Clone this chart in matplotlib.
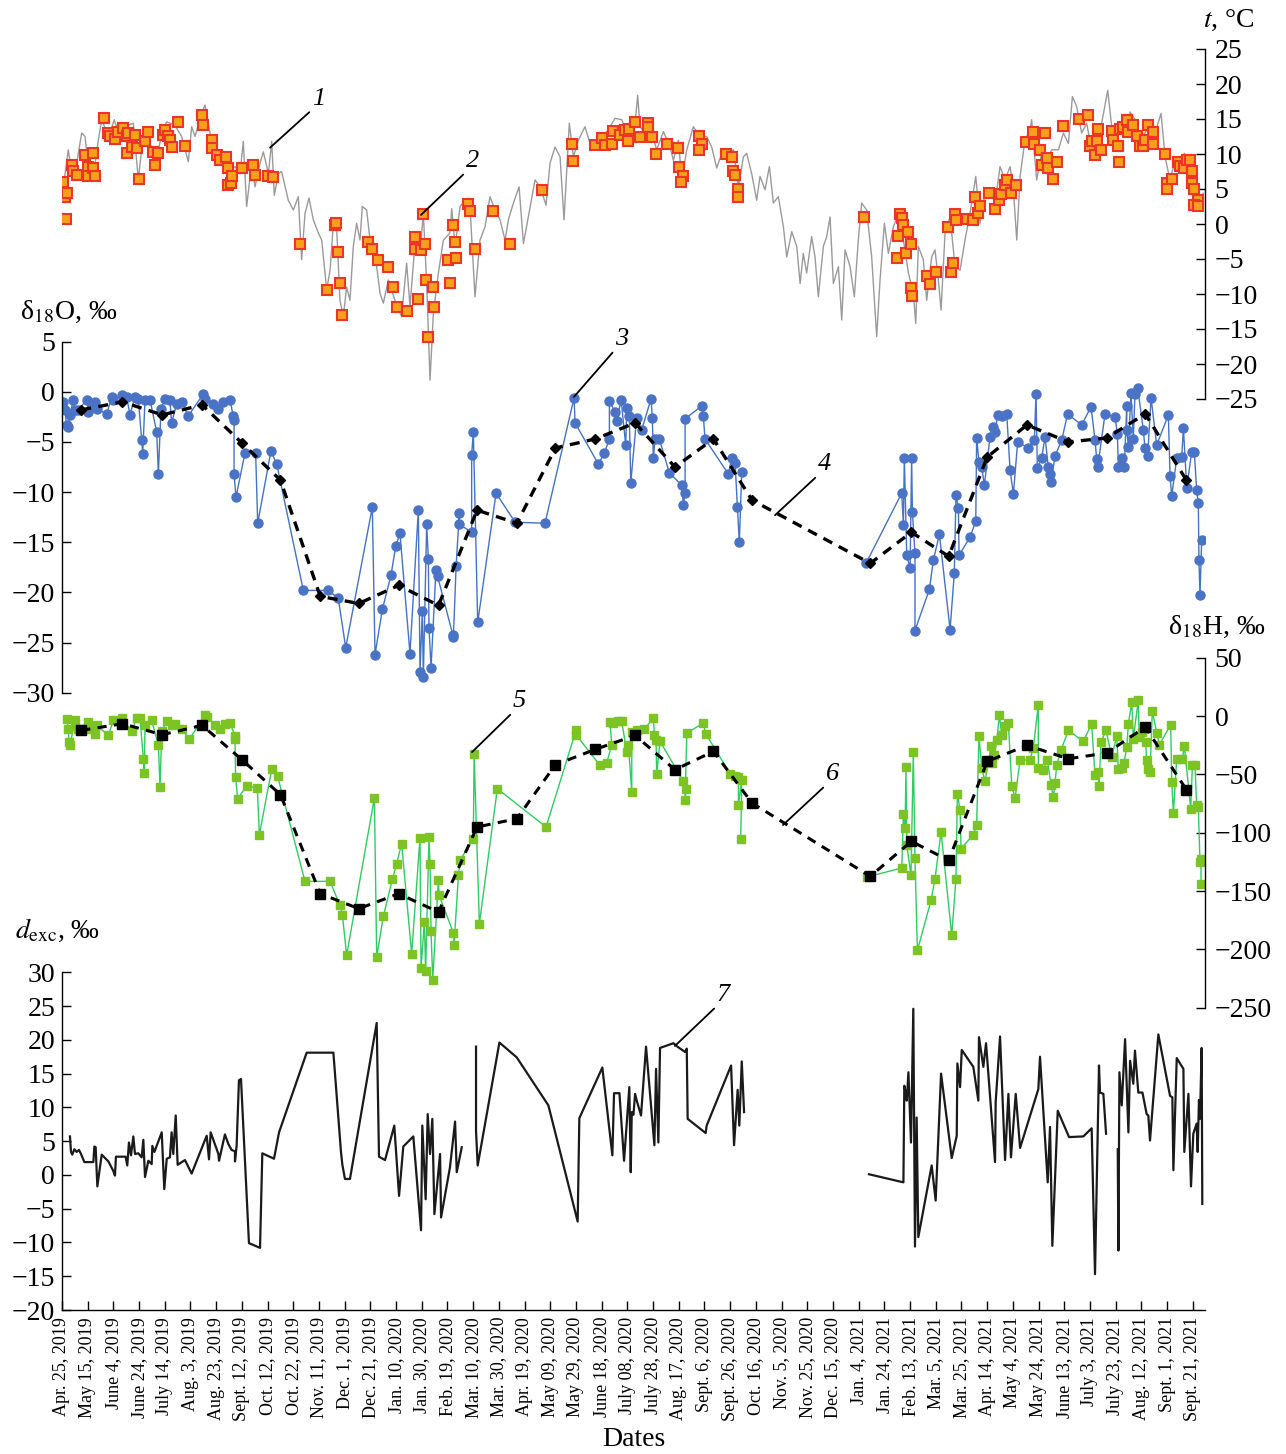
import numpy as np
import matplotlib.pyplot as plt

plt.rcParams["font.family"] = ["Liberation Serif", "DejaVu Serif"]
plt.rcParams["mathtext.fontset"] = "stix"

# x axis in days since Apr. 25, 2019
tick_days = list(range(0, 881, 20))
tick_labels = ["Apr. 25, 2019", "May 15, 2019", "June 4, 2019", "June 24, 2019",
               "July 14, 2019", "Aug. 3, 2019", "Aug. 23, 2019", "Sept. 12, 2019",
               "Oct. 12, 2019", "Oct. 22, 2019", "Nov. 11, 2019", "Dec. 1, 2019",
               "Dec. 21, 2019", "Jan. 10, 2020", "Jan. 30, 2020", "Feb. 19, 2020",
               "Mar. 10, 2020", "Mar. 30, 2020", "Apr. 19, 2020", "May 09, 2020",
               "May 29, 2020", "June 18, 2020", "July 08, 2020", "July 28, 2020",
               "Aug. 17, 2020", "Sept. 6, 2020", "Sept. 26, 2020", "Oct. 16, 2020",
               "Nov. 5, 2020", "Nov. 25, 2020", "Dec. 15, 2020", "Jan. 4, 2021",
               "Jan. 24, 2021", "Feb. 13, 2021", "Mar. 5, 2021", "Mar. 25, 2021",
               "Apr. 14, 2021", "May 4, 2021", "May 24, 2021", "June 13, 2021",
               "July 3, 2021", "July 23, 2021", "Aug. 12, 2021", "Sept. 1, 2021",
               "Sept. 21, 2021"]

# 1 - air temperature (daily)
temp_days = [0, 4.9, 7.5, 10.1, 15.3, 17.9, 20.5, 24.4, 28.3, 30.9, 36.1, 40.7, 43.8, 49.0,
             55.5, 59.4, 63.3, 69.8, 73.7, 77.6, 81.5, 87.9, 93.1, 98.3, 100.9, 103.5, 108.7,
             111.3, 115.2, 119.1, 124.3, 129.4, 134.6, 138.5, 141.1, 143.7, 147.6, 150.2,
             154.1, 156.7, 160.6, 163.2, 165.2, 168.4, 170.9, 176.1, 180.0, 183.9, 186.5,
             189.1, 192.2, 195.6, 199.5, 202.1, 206.0, 208.6, 211.2, 213.7, 216.3, 218.9,
             221.5, 224.1, 226.7, 229.3, 231.9, 233.7, 237.1, 239.7, 243.6, 247.5, 250.1,
             254.0, 259.1, 264.3, 268.2, 270.8, 274.7, 278.6, 281.2, 283.8, 286.4, 289.0,
             292.9, 296.8, 301.9, 303.3, 305.9, 309.8, 313.7, 317.5, 321.4, 325.3, 329.2,
             333.1, 337.0, 340.9, 344.8, 347.4, 351.3, 355.7, 359.1, 362.9, 368.1, 372.0,
             376.7, 379.8, 383.7, 387.6, 390.7, 394.8, 398.0, 401.9, 407.0, 410.9, 416.1,
             421.3, 426.5, 430.4, 435.6, 439.5, 443.4, 446.0, 448.0, 449.8, 453.7, 457.6,
             462.8, 468.0, 473.2, 475.8, 479.7, 482.3, 486.2, 491.3, 496.5, 501.7, 505.6,
             509.5, 513.4, 517.3, 522.5, 526.4, 530.3, 532.8, 536.7, 540.6, 543.2, 547.1,
             550.5, 553.6, 557.5, 561.4, 564.0, 567.9, 571.8, 574.4, 576.9, 579.5, 583.4,
             586.0, 588.6, 592.5, 595.1, 597.7, 600.3, 604.2, 606.8, 609.4, 613.3, 616.6,
             619.7, 622.3, 626.2, 630.1, 634.0, 636.6, 640.0, 643.1, 647.0, 650.9, 654.8,
             658.7, 662.5, 664.4, 666.4, 670.3, 672.9, 676.8, 679.4, 682.0, 684.1, 687.2,
             691.1, 695.0, 698.9, 702.7, 706.6, 711.1, 714.4, 718.3, 723.5, 726.1, 730.0,
             733.9, 737.8, 740.4, 743.0, 745.6, 749.4, 753.3, 754.6, 758.5, 762.4, 766.3,
             770.2, 775.4, 779.3, 783.2, 786.3, 789.6, 793.5, 797.4, 801.3, 805.2, 809.1,
             813.8, 816.9, 820.8, 824.7, 828.6, 831.2, 835.0, 838.9, 842.8, 846.7, 850.6,
             855.3, 858.4, 862.3, 866.2, 870.1, 873.4, 877.8, 881.7, 885.6, 888.2]
temp_vals = [3.9, 10.6, 7.5, 7.2, 13.0, 12.5, 8.2, 6.8, 12.0, 14.9, 12.5, 14.9, 13.0, 13.9,
             14.4, 6.3, 13.0, 11.0, 9.1, 13.0, 14.6, 14.1, 12.5, 8.9, 13.9, 12.5, 15.8,
             17.0, 13.0, 11.0, 9.1, 7.2, 8.2, 7.2, 11.8, 2.5, 8.7, 5.3,
             8.7, 10.3, 7.2, 11.8, 4.1, 7.2, 7.5, 3.4, 2.0, 3.9, -5.1,
             1.5, 3.7, 0.6, -1.3, -2.3, -9.4, -6.6, 0.1, -0.4, -10.9, -13.2,
             -9.0, -10.9, -3.2, 0.1, -2.3, 2.5, 2.0, -2.3, -4.2, -9.9, -11.3,
             -8.0, -10.9, -13.2, -5.6, -11.8, -2.8, -4.2, 1.5, -8.5, -22.3, -12.8,
             -7.0, -2.3, -1.3, 2.2, -3.2, 2.5, 3.4, 2.5, -10.4, -2.3, -0.4,
             3.9, 2.0, 0.6, -2.3, 0.6, 3.0, 5.3, -2.8, 1.0, 6.3, 5.3,
             2.7, 8.7, 11.0, 9.6, 0.6, 14.4, 9.6, 12.0, 13.9, 11.5, 12.0,
             12.5, 13.9, 15.1, 14.9, 13.0, 15.3, 14.4, 18.4, 13.9, 13.0, 13.9,
             10.6, 13.2, 11.0, 9.1, 12.0, 6.3, 10.6, 13.9, 12.5, 12.5, 11.0,
             8.0, 10.1, 9.9, 10.6, 5.3, 9.6, 10.1, 7.2, 3.4, 6.8, 4.9,
             8.2, 3.0, 3.9, -0.4, -4.7, -1.1, -3.2, -8.5, -4.2, -7.0, -1.8,
             -4.7, -10.4, -3.2, -1.8, 1.0, -8.5, -6.1, -13.7, -3.7, -6.1, -10.4,
             -2.3, 3.0, 2.0, -4.7, -16.1, -8.0, 0.1, -4.2, -0.4, 1.5, -2.3,
             -7.0, -9.9, -14.2, -3.2, -5.1, -10.9, -4.7, -3.7, -8.0, -12.3, -1.3,
             1.0, -6.1, -6.6, -2.3, 1.5, 6.8, 0.1, 4.4, 4.9, 3.0, 8.2,
             6.3, 8.2, 4.9, -2.3, 6.8, 12.0, 13.4, 14.9, 6.3, 10.1, 9.1,
             10.6, 10.6, 13.0, 11.5, 18.2, 16.8, 13.0, 14.4, 10.6, 12.0, 14.4,
             19.1, 13.9, 12.5, 14.4, 13.0, 16.0, 14.9, 12.0, 13.0, 14.4, 13.0,
             15.8, 9.6, 6.3, 9.1, 8.2, 10.1, 7.2, 3.9, 2.5, 4.4]

# 2 - air temperature on sampling days
samp_t_days = [1.0, 2.3, 2.9, 3.6, 7.5, 8.8, 11.4, 17.9, 20.5, 20.5, 23.9, 24.4, 25.7, 32.7,
               36.1, 37.4, 41.2, 43.8, 47.7, 50.3, 50.3, 51.6, 54.2, 56.8, 58.1, 59.9, 64.6,
               66.7, 71.1, 72.4, 75.0, 78.9, 80.2, 82.7, 84.0, 85.3, 90.5, 95.7, 108.7, 110.0,
               116.5, 117.0, 120.9, 123.0, 127.4, 128.9, 129.4, 131.3, 132.0, 139.8, 148.4,
               150.2, 160.6, 163.9, 185.2, 206.0, 212.5, 213.0, 215.0, 216.3, 218.2, 238.4,
               241.5, 246.2, 253.4, 257.8, 260.4, 268.2, 274.7, 274.7, 277.3, 279.4, 281.2,
               282.5, 283.3, 285.1, 289.0, 289.8,
               300.7, 302.0, 304.6, 305.9, 306.7, 316.2, 317.5, 321.4, 335.2, 348.7, 373.8,
               396.7, 397.4, 414.8, 420.5, 422.6, 428.3, 429.1, 434.3, 438.2, 440.8, 441.5,
               446.0, 449.8, 456.3, 456.3, 458.9, 462.0, 470.6, 479.2, 480.5, 483.0, 481.7,
               496.0, 498.3, 496.0, 516.8, 521.2, 522.0, 523.8, 525.8, 525.8,
               624.2, 649.6, 650.3, 652.2, 653.5, 654.8, 656.8, 658.7, 660.5, 660.7, 661.8,
               672.9, 675.5, 679.9, 689.3, 691.6, 693.7, 695.0, 695.7, 704.0, 708.7, 710.5,
               713.1, 714.4, 721.7, 726.1, 729.5, 730.8, 733.9, 735.2, 738.3, 742.4, 750.0,
               755.4, 756.7, 761.1, 762.4, 765.0, 766.3, 767.6, 771.5, 774.1, 779.3, 791.5,
               798.7, 800.0, 801.3, 803.9, 805.2, 806.5, 808.3, 816.9, 818.2, 822.1, 822.6,
               823.4, 826.0, 828.6, 829.9, 833.7, 836.3, 838.9, 841.5, 842.8, 844.9, 849.3,
               849.3, 858.4, 859.7, 860.2, 864.1, 868.8, 870.1, 873.4, 875.3, 877.8, 879.1,
               879.7, 881.2, 883.8, 881.2, 884.3]
samp_t = [6.0, 3.9, 0.7, 4.4, 8.4, 7.5, 7.0, 9.9, 8.2, 6.8, 10.1, 8.0, 6.8, 15.2,
          13.0, 12.5, 12.2, 13.2, 13.7, 12.5, 10.1, 13.0, 11.0, 12.7, 10.8, 6.4, 11.8,
          13.2, 10.3, 8.4, 10.1, 12.7, 13.4, 12.5, 12.0, 11.0, 14.5, 11.1, 15.6, 14.1,
          12.0, 10.8, 9.9, 9.1, 9.6, 8.0, 5.5, 5.8, 6.8, 8.0, 8.4,
          7.0, 6.8, 6.7, -2.9, -9.4, -0.1, 0.1, -4.0, -8.4, -13.0, -2.5,
          -3.5, -5.1, -6.2, -9.0, -11.8, -12.4, -1.8, -3.5, -10.7, -3.7, 1.4,
          -2.9, -8.0, -16.2, -9.0, -11.8,
          -5.1, -8.4, -0.2, -2.6, -4.9, 2.8, 1.8, -3.6, 1.8, -2.9, 4.9,
          11.4, 9.0, 11.3, 12.3, 11.3, 11.4, 13.3, 12.7, 13.4, 11.9, 13.5,
          14.6, 12.4, 14.4, 13.8, 12.4, 10.0, 11.4, 10.8, 8.1, 6.9, 6.0,
          12.5, 11.4, 10.6, 10.0, 9.5, 7.6, 7.0, 5.0, 3.9,
          1.0, -4.9, -1.7, 1.4, 0.8, -0.1, -4.1, -1.2, -2.9, -9.2, -10.3,
          -7.4, -8.6, -6.9, -0.4, -6.8, -5.5, 1.4, 0.6, 0.7, 0.6, 3.8,
          1.6, 2.6, 4.4, 2.2, 3.4, 4.3, 5.5, 6.3, 4.4, 5.5, 11.7,
          13.2, 11.4, 10.6, 8.4, 13.0, 9.4, 8.0, 6.4, 8.9, 14.0, 15.0,
          15.5, 11.1, 11.8, 9.9, 11.9, 13.5, 10.5, 13.3, 12.0, 11.1, 8.8,
          13.5, 13.8, 14.9, 13.2, 14.1, 12.5, 11.1, 11.1, 12.0, 14.1, 13.2,
          11.4, 10.0, 5.9, 5.0, 6.4, 8.8, 8.3, 8.0, 9.2, 9.1, 7.5,
          5.9, 5.0, 3.4, 2.7, 2.6]

# 3 - d18O of samples (nan = no sampling Oct.-Dec. 2020)
o18_days = [1.0, 2.3, 3.6, 4.9, 6.2, 8.8, 10.1, 12.7, 19.2, 20.5, 23.1, 25.7, 27.0, 34.8,
            38.7, 39.9, 46.4, 50.3, 52.9, 56.8, 59.4, 62.0, 62.8, 64.6, 68.5, 73.7, 75.0,
            77.0, 80.2, 84.0, 85.3, 89.2, 93.1, 98.3, 110.0, 111.3, 117.8, 121.7, 125.6,
            130.7, 133.3, 133.9, 133.9, 135.4, 142.4, 150.7, 152.3, 162.6, 167.1, 187.8,
            207.3, 215.0, 220.8, 241.5, 243.6, 249.3, 256.0, 259.7, 263.0, 270.8, 277.3,
            278.6, 280.4, 281.2, 283.8, 285.1, 285.6, 287.2, 291.0, 292.3,
            304.1, 304.6, 306.7, 309.2, 309.2, 318.8, 318.8, 320.1, 323.5, 337.8, 352.6,
            375.9, 398.5, 399.3, 417.4, 422.1, 426.0, 426.0, 430.4, 431.7, 435.1, 438.7,
            439.5, 441.5, 442.6, 447.2, 451.1, 458.4, 459.4, 460.2, 461.5, 464.9, 472.7,
            482.3, 483.6, 484.9, 484.9, 497.8, 499.1, 500.4, 518.6, 521.2, 523.8, 525.6,
            527.1, 529.0, 580.0,
            625.7, 653.5, 654.8, 655.5, 657.4, 660.0, 661.2, 661.8, 663.8, 663.8, 675.0,
            678.1, 682.8, 691.1, 694.4, 695.7, 697.6, 698.1, 706.6, 711.1, 711.8, 713.6,
            715.7, 717.8, 722.2, 724.8, 726.1, 728.2, 731.3, 735.2, 737.8, 740.4, 743.7,
            752.0, 756.7, 758.0, 759.0, 762.4, 765.0, 767.6, 768.9, 769.7, 772.8, 778.0,
            782.6, 793.5, 800.8, 803.9, 805.2, 806.0, 811.7, 819.5, 821.3, 822.1, 824.7,
            826.7, 828.6, 828.6, 829.9, 831.9, 833.7, 835.0, 837.1, 841.5, 842.8, 844.9,
            847.5, 851.9, 861.0, 862.3, 863.6, 867.5, 871.4, 872.7, 875.3, 879.1, 881.2,
            883.0, 884.3, 884.8, 885.6, 886.9]
o18_vals = [-1.0, -1.8, -3.3, -3.5, -2.3, -0.8, -1.8, -1.8, -0.8, -2.0, -1.5, -1.0, -1.7, -2.2,
            -0.5, -0.8, -0.3, -0.5, -2.3, -0.5, -0.7, -4.8, -6.2, -0.8, -0.8, -4.0, -8.2,
            -1.7, -0.7, -0.8, -3.1, -1.2, -1.0, -2.4, -0.2, -0.7, -1.2, -1.7, -1.0,
            -0.8, -2.4, -2.8, -8.2, -10.5, -6.1, -6.1, -13.1, -5.9, -7.2, -19.8,
            -19.8, -20.6, -25.5, -11.5, -26.2, -21.7, -18.3, -15.4, -14.1, -26.1, -11.8,
            -27.9, -21.9, -28.4, -13.2, -16.7, -23.5, -27.5, -17.8, -18.4,
            -24.2, -24.4, -17.4, -12.1, -13.2, -14.0, -6.3, -4.0, -23.0, -10.1, -13.0,
            -13.1, -0.6, -3.1, -7.2, -6.1, -4.7, -0.9, -2.0, -2.9, -0.8, -5.3,
            -1.6, -2.4, -9.1, -2.6, -3.8, -0.7, -2.6, -6.6, -4.7, -4.7, -8.1,
            -9.3, -11.3, -10.1, -2.7, -1.4, -2.4, -4.7, -8.2, -6.6, -7.1, -11.5,
            -15.0, -8.0, np.nan,
            -17.1, -10.1, -13.3, -6.6, -16.3, -17.6, -6.6, -12.0, -16.1, -23.8, -19.7,
            -16.8, -14.2, -23.7, -18.1, -10.3, -11.6, -16.3, -14.5, -12.9, -4.6, -7.0,
            -7.5, -9.3, -4.5, -3.5, -4.0, -2.3, -2.4, -2.2, -7.8, -10.2, -5.0,
            -5.6, -4.8, -0.2, -7.6, -6.6, -4.5, -7.5, -8.2, -9.0, -6.4, -4.8,
            -2.2, -3.3, -1.5, -4.8, -6.7, -7.5, -2.2, -2.5, -4.2, -7.5, -6.6,
            -7.5, -1.4, -3.8, -5.5, -0.1, -4.7, -0.2, 0.4, -3.8, -5.6, -6.4,
            -0.6, -5.3, -2.3, -8.4, -10.4, -6.6, -6.5, -3.6, -9.6, -6.0, -6.0,
            -9.8, -11.1, -16.8, -20.3, -14.8]

# 4, 6 - monthly means
mean_days = [15, 47, 78, 109, 140, 170, 201, 231, 262, 293, 323, 354, 384, 415, 446, 477,
             507, 537, 629, 661, 690, 720, 751, 783, 813, 843, 875]
o18_mean = [-1.8, -1.0, -2.3, -1.3, -5.1, -8.8, -20.4, -21.1, -19.3, -21.3, -11.8, -13.1,
            -5.6, -4.7, -3.1, -7.5, -4.7, -10.8, -17.1, -14.0, -16.4, -6.5, -3.3, -5.0,
            -4.6, -2.2, -8.8]
h2_mean = [-12.3, -6.6, -16.0, -8.0, -37.4, -67.4, -152.3, -165.1, -152.3, -168.0, -95.1,
           -88.0, -41.7, -28.6, -16.6, -46.0, -30.3, -74.6, -137.4, -107.4, -123.7, -38.9,
           -25.1, -36.6, -31.7, -9.4, -63.1]

# 5 - d2H of samples
h2_days = [3.6, 4.9, 5.4, 6.2, 10.1, 12.7, 20.5, 21.8, 25.7, 27.0, 36.1, 39.9, 46.4, 54.2,
           58.1, 60.7, 63.3, 64.1, 64.6, 69.8, 75.0, 76.3, 77.6, 81.5, 85.3, 87.9, 93.1,
           99.1, 111.3, 112.6, 119.1, 123.0, 126.8, 130.7, 134.6, 134.6, 135.1, 136.7,
           143.7, 152.0, 153.6, 163.2, 167.8, 189.1, 208.6, 216.3, 218.2, 221.5, 243.1,
           244.9, 250.1, 257.1, 260.4, 264.3, 272.1, 278.6, 279.4, 282.0, 283.0, 285.6,
           286.4, 287.2, 288.5, 292.9, 293.4,
           304.6, 305.1, 308.5, 309.8, 320.1, 320.7, 324.8, 338.8, 376.7, 400.0, 400.0,
           418.7, 423.9, 427.8, 426.5, 429.1, 433.0, 435.6, 439.5, 440.8, 443.4, 443.4,
           447.2, 453.2, 460.2, 461.0, 462.3, 462.8, 465.4, 483.6, 485.6, 484.9, 486.2,
           499.1, 500.9, 519.9, 523.8, 526.4, 526.4, 529.0, 528.2, 580.0,
           626.2, 653.5, 654.8, 656.1, 656.8, 657.4, 660.7, 662.5, 663.8, 665.7, 676.3,
           679.4, 684.1, 692.4, 695.7, 696.8, 698.9, 699.6, 709.2, 711.8, 713.6, 715.7,
           718.3, 723.0, 723.5, 725.6, 727.4, 729.5, 731.3, 733.9, 736.5, 739.1, 741.7,
           745.6, 753.3, 755.9, 759.8, 759.8, 763.7, 766.8, 769.7, 771.5, 772.8, 774.1,
           777.5, 783.2, 794.8, 801.3, 803.9, 806.5, 807.0, 808.6, 812.5, 816.9, 820.8,
           822.1, 824.7, 826.5, 828.6, 829.9, 832.5, 833.7, 837.6, 838.2, 840.2, 843.3,
           844.1, 844.9, 846.7, 848.5, 851.9, 854.0, 862.8, 863.6, 864.9, 867.5, 871.9,
           873.4, 878.4, 879.7, 881.7, 883.0, 884.3, 885.6, 886.4, 886.4]
h2_vals = [-2.9, -10.9, -22.3, -25.1, -3.7, -10.9, -5.1, -10.9, -15.1, -8.0, -16.6, -3.7, -1.7, -13.1,
           -1.7, -1.7, -36.6, -48.6, -8.0, -3.7, -25.1, -60.9, -13.1, -4.6, -8.0, -6.6, -10.9,
           -20.0, 1.1, -0.9, -8.0, -10.9, -6.6, -5.7, -17.1, -19.4, -52.3, -70.9,
           -60.0, -61.7, -101.7, -45.7, -51.7, -141.7, -141.7, -162.3, -170.3, -205.1, -70.3,
           -206.6, -171.4, -140.0, -126.6, -109.4, -203.7, -104.6, -216.0, -176.6, -218.9, -103.7,
           -126.6, -184.6, -226.0, -140.9, -153.7,
           -185.7, -196.0, -136.6, -123.7, -105.1, -32.3, -178.0, -62.3, -95.1, -12.3, -16.0,
           -42.3, -40.0, -25.1, -5.1, -5.7, -4.6, -4.6, -30.9, -25.1, -65.1, -13.7,
           -12.3, -11.4, -1.7, -16.0, -20.9, -49.4, -21.7, -56.0, -62.3, -72.3, -14.6,
           -6.0, -15.1, -49.4, -51.4, -52.3, -76.0, -55.1, -105.1, np.nan,
           -138.0, -130.3, -83.7, -96.0, -43.7, -110.3, -136.6, -30.9, -121.7, -200.9, -158.0,
           -139.4, -99.4, -188.0, -139.4, -66.6, -80.9, -113.7, -101.7, -93.1, -17.4, -44.6,
           -56.0, -25.7, -40.0, -33.7, -20.9, 0.6, -16.0, -8.9, -6.0, -60.0, -70.3,
           -37.4, -38.0, -27.1, 9.7, -44.6, -46.0, -37.4, -59.4, -69.4, -57.4, -42.3,
           -28.9, -12.3, -21.7, -6.6, -50.9, -48.0, -60.0, -22.3, -12.3, -35.1, -17.1,
           -45.7, -44.6, -40.0, -26.6, -6.6, 12.0, -19.4, 13.4, -18.0, -13.7, -22.3,
           -38.0, -45.1, -48.0, 4.0, -14.3, -24.6, -7.4, -56.6, -83.1, -36.6, -36.6,
           -25.7, -79.4, -42.3, -42.3, -76.0, -78.0, -125.1, -122.3, -143.7]

# 7 - deuterium excess (nan = gap in record)
dexc_days = [6.2, 7.0, 8.0, 9.6, 11.4, 13.2, 14.8, 17.4, 24.4, 25.2, 26.2, 27.5, 30.9, 36.1,
             39.9, 41.2, 42.0, 49.5, 50.8, 52.1, 53.7, 55.5, 56.8, 59.4, 62.0, 63.3, 64.6,
             67.2, 69.8, 70.3, 71.9, 77.6, 79.6, 81.5, 84.0, 85.3, 86.6, 88.5, 90.0, 95.7,
             100.9, 112.6, 114.4, 115.7, 121.7, 122.2, 126.8, 129.4, 132.0, 134.6, 134.6,
             135.9, 137.7, 139.3, 145.5, 154.1, 155.9, 165.0, 168.9, 190.4, 211.2, 217.1,
             218.2, 220.2, 224.1, 244.9, 246.7, 251.4, 258.6, 262.3, 265.6, 273.4, 279.4,
             280.4, 283.0, 284.6, 286.4, 288.2, 289.8, 294.2, 295.0, 301.9, 305.9, 307.2,
             311.1, 316.0,
             322.2, 322.2, 323.5, 340.4, 353.9, 378.5, 401.3, 402.6, 420.5, 428.3, 429.6,
             433.8, 437.4, 441.5, 442.6, 443.4, 444.7, 446.0, 447.3, 450.6, 454.5, 461.0,
             462.3, 464.1, 465.4, 475.8, 478.9, 484.9, 486.2, 486.9, 500.9, 501.7, 520.7,
             523.0, 525.8, 527.1, 529.0, 530.8, 580.0,
             628.0, 654.8, 655.5, 656.6, 657.4, 658.7, 660.7, 662.5, 663.8, 665.1, 666.4,
             676.8, 679.9, 684.1, 692.4, 696.3, 696.8, 698.9, 700.2, 709.2, 713.1, 713.6,
             717.0, 719.1, 726.1, 726.6, 730.0, 733.9, 736.5, 738.5, 742.2, 745.6, 759.8,
             761.1, 767.1, 768.9, 770.7, 774.9, 783.7, 794.8, 801.3, 803.9, 807.0, 807.8,
             810.4, 812.5, 817.0,
             821.6, 822.1, 822.9, 824.7, 827.3, 829.9, 831.2, 833.7, 835.0, 837.6, 840.8,
             844.1, 845.4, 846.7, 853.2, 862.3, 864.1, 864.9, 867.5, 872.7, 873.4, 876.6,
             878.6, 880.4, 883.0, 883.8, 884.8, 885.6, 886.9, 887.4]
dexc_vals = [5.7, 3.4, 3.0, 3.8, 3.4, 3.7, 3.1, 1.9, 1.9, 4.2, 4.1, -1.7, 3.0, 2.0,
             0.6, -0.1, 2.7, 2.7, 1.4, 4.8, 2.9, 5.7, 3.1, 3.2, 2.6, 5.2, -0.3,
             2.1, 1.6, 4.3, 3.4, 6.3, -2.1, 2.4, 2.6, 6.3, 3.1, 8.8, 1.5, 2.2,
             0.2, 5.8, 2.3, 6.3, 3.1, 2.1, 6.0, 4.6, 3.7, 3.5, 2.0,
             4.3, 14.0, 14.2, -10.1, -10.8, 3.2, 2.4, 6.3, 18.1, 18.1, 3.4,
             1.5, -0.6, -0.6, 22.5, 2.7, 2.2, 7.3, -3.1, 4.2, 5.7, -8.2,
             7.3, -3.6, 9.0, 3.1, 8.3, -5.8, 3.1, -6.3, 1.1, 7.9, 0.4,
             4.1, np.nan,
             19.0, 6.5, 1.4, 19.6, 17.4, 10.3, -6.9, 8.4, 15.9, 2.9, 12.1,
             12.1, 2.1, 13.0, 0.4, 9.3, 8.9, 12.0, 11.0, 8.8, 19.0, 4.4,
             15.7, 4.8, 18.8, 19.5, 19.0, 18.2, 18.7, 8.3, 6.2, 7.3, 16.2,
             4.4, 12.6, 7.3, 16.8, 9.3, np.nan,
             0.1, -1.1, 13.2, 12.2, 11.0, 15.2, 4.8, 24.6, -10.6, 8.5, -9.2,
             1.4, -3.8, 15.0, 2.5, 5.8, 16.5, 13.0, 18.5, 16.0, 11.0, 20.4,
             16.0, 19.5, 1.9, 10.8, 20.5, 2.2, 12.0, 2.6, 12.0, 4.0, 12.7,
             17.5, -1.1, 7.1, -10.5, 9.5, 5.6, 5.7, 6.9, -14.7, 16.2, 12.2,
             12.0, 6.1, np.nan,
             3.8, -11.2, 15.2, 10.3, 20.1, 6.3, 16.9, 13.5, 18.4, 12.2, 12.2,
             9.0, 8.8, 5.1, 20.8, 11.7, 11.5, 0.7, 17.3, 15.7, 3.4, 12.0,
             -1.7, 6.1, 7.6, 3.4, 11.1, 8.3, 18.8, -4.3]

W, H = 1286, 1454
fig = plt.figure(figsize=(W / 100, H / 100), dpi=100)
x0, x1 = 62 / W, (1205 - 62) / W
ax_t = fig.add_axes([x0, 1 - 399 / H, x1, 350 / H])
ax_o = fig.add_axes([x0, 1 - 692.7 / H, x1, 351 / H])
ax_h = fig.add_axes([x0, 1 - 1007.7 / H, x1, 350 / H])
ax_d = fig.add_axes([x0, 1 - 1310 / H, x1, 337.7 / H])

for ax in (ax_t, ax_o, ax_h, ax_d):
    ax.patch.set_visible(False)
    ax.set_xlim(0, 889.5)
    for s in ax.spines.values():
        s.set_visible(False)
        s.set_linewidth(1.0)
    ax.tick_params(axis="both", direction="in", length=6.5, width=1.0,
                   labelsize=20, pad=5)

# temperature panel
ax_t.plot(temp_days, temp_vals, color="#9a9a9a", lw=1.0)
ax_t.plot(samp_t_days, samp_t, ls="none", marker="s", ms=6.5, mfc="#f7a11a",
          mec="#ee3424", mew=1.5)
ax_t.set_ylim(-25, 25)
ax_t.set_yticks(range(-25, 26, 5))
ax_t.yaxis.tick_right()
ax_t.spines["right"].set_visible(True)
ax_t.tick_params(axis="y", pad=7)
ax_t.set_xticks([])

# d18O panel
ax_o.plot(o18_days, o18_vals, color="#4472c4", lw=1.0, marker="o", ms=6.5,
          mfc="#4a73c6", mec="#4a73c6")
ax_o.plot(mean_days, o18_mean, color="black", lw=2.4, ls=(0, (3, 2.2)),
          marker="D", ms=5, mfc="black", mec="black")
ax_o.set_ylim(-30, 5)
ax_o.set_yticks(range(-30, 6, 5))
ax_o.spines["left"].set_visible(True)
ax_o.set_xticks([])

# d2H panel
ax_h.plot(h2_days, h2_vals, color="#2ecc63", lw=1.0, marker="s", ms=6,
          mfc="#7cc424", mec="#7cc424")
ax_h.plot(mean_days, h2_mean, color="black", lw=2.2, ls=(0, (3, 2.4)),
          marker="s", ms=7.5, mfc="black", mec="black")
ax_h.set_ylim(-250, 50)
ax_h.set_yticks(range(-250, 51, 50))
ax_h.yaxis.tick_right()
ax_h.spines["right"].set_visible(True)
ax_h.tick_params(axis="y", pad=7)
ax_h.set_xticks([])

# d-excess panel
ax_d.plot(dexc_days, dexc_vals, color="#1a1a1a", lw=1.6)
ax_d.set_ylim(-20, 30)
ax_d.set_yticks(range(-20, 31, 5))
ax_d.spines["left"].set_visible(True)
ax_d.spines["bottom"].set_visible(True)
ax_d.set_xticks(tick_days)
ax_d.set_xticklabels(tick_labels, rotation=90, fontsize=13)
ax_d.tick_params(axis="x", pad=5)

# numbered leader lines
def leader(ax, label, xy, off):
    ax.annotate(label, xy=xy, xytext=off, textcoords="offset pixels",
                fontsize=19, fontstyle="italic", ha="left", va="bottom", zorder=10,
                arrowprops=dict(arrowstyle="-", color="black", lw=1.3,
                                relpos=(0, 0), shrinkA=0, shrinkB=0))

leader(ax_t, "1", (161.9, 10.9), (42, 38))
leader(ax_t, "2", (279.4, 1.3), (45, 43))
leader(ax_o, "3", (398.4, -0.5), (41, 47))
leader(ax_o, "4", (554.9, -12.3), (43, 40))
leader(ax_h, "5", (319.1, -30.9), (41, 40))
leader(ax_h, "6", (561.1, -93.4), (43, 40))
leader(ax_d, "7", (477.0, 19.1), (42, 40))

# axis titles
fig.text(1255 / W, 1 - 20 / H, r"$t$, °C", ha="right", va="center", fontsize=20)
fig.text(20 / W, 1 - 312 / H, r"δ$_{18}$O, ‰", ha="left", va="center", fontsize=20)
fig.text(1265 / W, 1 - 627 / H, r"δ$_{18}$H, ‰", ha="right", va="center", fontsize=20)
fig.text(15 / W, 1 - 930 / H, r"$d_{\rm exc}$, ‰", ha="left", va="center", fontsize=20)
fig.text(634 / W, 1 - 1440 / H, "Dates", ha="center", va="center", fontsize=20)

fig.savefig("out.png", dpi=100)
